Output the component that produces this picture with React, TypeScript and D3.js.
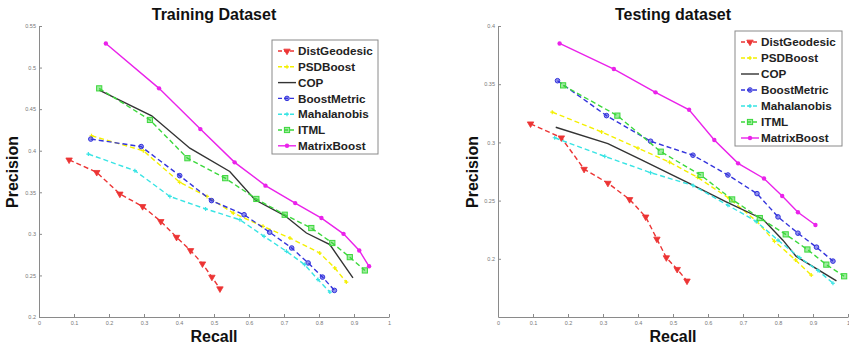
import React, { useRef, useEffect } from 'react';
import * as d3 from 'd3';

const W = 849;
const H = 346;

const seriesNames = ['DistGeodesic', 'PSDBoost', 'COP', 'BoostMetric', 'Mahalanobis', 'ITML', 'MatrixBoost'];

const xTicks = [0, 0.1, 0.2, 0.3, 0.4, 0.5, 0.6, 0.7, 0.8, 0.9, 1];
const trainYTicks = [0.2, 0.25, 0.3, 0.35, 0.4, 0.45, 0.5, 0.55];
const testYTicks = [0.2, 0.25, 0.3, 0.35, 0.4];

// training dataset (recall / precision)
const trDistGeodesicR = [0.086, 0.165, 0.231, 0.296, 0.348, 0.393, 0.433, 0.467, 0.494, 0.517];
const trDistGeodesicP = [0.389, 0.374, 0.348, 0.333, 0.315, 0.296, 0.28, 0.264, 0.248, 0.234];
const trPSDBoostR = [0.15, 0.298, 0.402, 0.48, 0.555, 0.64, 0.717, 0.802, 0.845, 0.878];
const trPSDBoostP = [0.418, 0.4, 0.362, 0.345, 0.325, 0.309, 0.295, 0.277, 0.259, 0.242];
const trCOPR = [0.172, 0.322, 0.431, 0.545, 0.617, 0.702, 0.764, 0.831, 0.897];
const trCOPP = [0.473, 0.442, 0.403, 0.375, 0.341, 0.322, 0.301, 0.287, 0.247];
const trBoostMetricR = [0.148, 0.292, 0.402, 0.493, 0.586, 0.659, 0.722, 0.769, 0.81, 0.844];
const trBoostMetricP = [0.414, 0.405, 0.37, 0.34, 0.323, 0.302, 0.283, 0.265, 0.248, 0.232];
const trMahalanobisR = [0.141, 0.274, 0.374, 0.476, 0.574, 0.643, 0.707, 0.759, 0.797, 0.831];
const trMahalanobisP = [0.396, 0.376, 0.345, 0.33, 0.317, 0.297, 0.279, 0.263, 0.245, 0.23];
const trITMLR = [0.172, 0.317, 0.424, 0.532, 0.621, 0.702, 0.778, 0.838, 0.888, 0.931];
const trITMLP = [0.475, 0.437, 0.391, 0.367, 0.342, 0.323, 0.307, 0.289, 0.272, 0.256];
const trMatrixBoostR = [0.191, 0.343, 0.461, 0.559, 0.647, 0.732, 0.807, 0.87, 0.915, 0.943];
const trMatrixBoostP = [0.529, 0.475, 0.426, 0.386, 0.358, 0.337, 0.319, 0.3, 0.28, 0.261];

// testing dataset
const teDistGeodesicR = [0.093, 0.181, 0.246, 0.314, 0.376, 0.422, 0.454, 0.481, 0.512, 0.54];
const teDistGeodesicP = [0.316, 0.304, 0.277, 0.265, 0.251, 0.236, 0.217, 0.201, 0.191, 0.181];
const tePSDBoostR = [0.155, 0.296, 0.4, 0.49, 0.57, 0.66, 0.74, 0.79, 0.85, 0.895];
const tePSDBoostP = [0.326, 0.309, 0.295, 0.283, 0.27, 0.252, 0.232, 0.215, 0.199, 0.186];
const teCOPR = [0.165, 0.314, 0.41, 0.538, 0.652, 0.757, 0.814, 0.852, 0.967];
const teCOPP = [0.313, 0.299, 0.285, 0.266, 0.249, 0.234, 0.216, 0.202, 0.181];
const teBoostMetricR = [0.17, 0.31, 0.436, 0.557, 0.657, 0.74, 0.8, 0.857, 0.91, 0.957];
const teBoostMetricP = [0.353, 0.323, 0.301, 0.289, 0.272, 0.256, 0.236, 0.222, 0.21, 0.198];
const teMahalanobisR = [0.162, 0.305, 0.436, 0.557, 0.657, 0.738, 0.8, 0.862, 0.914, 0.957];
const teMahalanobisP = [0.304, 0.288, 0.274, 0.263, 0.246, 0.232, 0.216, 0.201, 0.19, 0.179];
const teITMLR = [0.186, 0.341, 0.465, 0.579, 0.669, 0.748, 0.822, 0.884, 0.938, 0.989];
const teITMLP = [0.349, 0.323, 0.292, 0.272, 0.251, 0.235, 0.221, 0.208, 0.195, 0.185];
const teMatrixBoostR = [0.176, 0.331, 0.45, 0.546, 0.618, 0.686, 0.76, 0.812, 0.857, 0.907];
const teMatrixBoostP = [0.385, 0.363, 0.343, 0.328, 0.302, 0.282, 0.269, 0.254, 0.24, 0.229];

// styl każdej serii w kolejności seriesNames
const seriesStyles = [
  { color: '#ec3434', dash: '5,3', marker: 'tri' },
  { color: '#f4f000', dash: '5,3', marker: 'plus' },
  { color: '#333333', dash: null, marker: null },
  { color: '#3434dc', dash: '5,3', marker: 'circle' },
  { color: '#38e4e4', dash: '5,3', marker: 'plus' },
  { color: '#3cd83c', dash: '5,3', marker: 'square' },
  { color: '#ea22ea', dash: null, marker: 'dot' },
];

const zip = (r, p) => r.map((v, i) => [v, p[i]]);

const trainSeries = [
  zip(trDistGeodesicR, trDistGeodesicP),
  zip(trPSDBoostR, trPSDBoostP),
  zip(trCOPR, trCOPP),
  zip(trBoostMetricR, trBoostMetricP),
  zip(trMahalanobisR, trMahalanobisP),
  zip(trITMLR, trITMLP),
  zip(trMatrixBoostR, trMatrixBoostP),
];
const testSeries = [
  zip(teDistGeodesicR, teDistGeodesicP),
  zip(tePSDBoostR, tePSDBoostP),
  zip(teCOPR, teCOPP),
  zip(teBoostMetricR, teBoostMetricP),
  zip(teMahalanobisR, teMahalanobisP),
  zip(teITMLR, teITMLP),
  zip(teMatrixBoostR, teMatrixBoostP),
];

const FONT = "'Liberation Sans', Arial, sans-serif";
const fmt = (v) => String(+v.toFixed(2));

function drawMarker(g, kind, color, x, y) {
  if (!kind) return;
  if (kind === 'tri') {
    g.append('path')
      .attr('d', d3.symbol().type(d3.symbolTriangle).size(18)())
      .attr('transform', `translate(${x},${y}) rotate(180)`)
      .attr('fill', color)
      .attr('stroke', color)
      .attr('stroke-width', 0.8);
  } else if (kind === 'circle') {
    g.append('circle').attr('cx', x).attr('cy', y).attr('r', 2.3)
      .attr('fill', color).attr('fill-opacity', 0.55).attr('stroke', color).attr('stroke-width', 1);
  } else if (kind === 'square') {
    g.append('rect').attr('x', x - 2.6).attr('y', y - 2.6).attr('width', 5.2).attr('height', 5.2)
      .attr('fill', color).attr('fill-opacity', 0.5).attr('stroke', color).attr('stroke-width', 1);
  } else if (kind === 'dot') {
    g.append('circle').attr('cx', x).attr('cy', y).attr('r', 2.2).attr('fill', color);
  } else if (kind === 'plus') {
    g.append('path')
      .attr('d', `M${x - 2},${y}H${x + 2}M${x},${y - 2}V${y + 2}`)
      .attr('stroke', color).attr('stroke-width', 1.2);
  }
}

function drawPanel(svg, cfg) {
  const x = d3.scaleLinear().domain([0, 1]).range([cfg.left, cfg.left + 350]);
  const y = d3.scaleLinear().domain(cfg.yDomain).range([317, 26]);
  const g = svg.append('g');

  const styleAxis = (a) => {
    a.select('.domain').attr('stroke', '#8a8a8a').attr('stroke-width', 1);
    a.selectAll('.tick line').attr('stroke', '#8a8a8a');
    a.selectAll('.tick text').attr('fill', '#777').attr('font-size', 5.5).attr('font-family', FONT);
  };

  g.append('g')
    .attr('transform', 'translate(0,317)')
    .call(d3.axisBottom(x).tickValues(xTicks).tickSize(-3).tickSizeOuter(0).tickPadding(4).tickFormat(fmt))
    .call(styleAxis);
  g.append('g')
    .attr('transform', `translate(${cfg.left},0)`)
    .call(d3.axisLeft(y).tickValues(cfg.yTicks).tickSize(-3).tickSizeOuter(0).tickPadding(3).tickFormat(fmt))
    .call(styleAxis);

  const line = d3.line().x((d) => x(d[0])).y((d) => y(d[1]));
  cfg.series.forEach((pts, i) => {
    const st = seriesStyles[i];
    g.append('path')
      .datum(pts)
      .attr('d', line)
      .attr('fill', 'none')
      .attr('stroke', st.color)
      .attr('stroke-width', 1.4)
      .attr('stroke-dasharray', st.dash);
    pts.forEach((d) => drawMarker(g, st.marker, st.color, x(d[0]), y(d[1])));
  });

  // tytuł i opisy osi
  g.append('text').attr('x', cfg.left + 175).attr('y', 20).attr('text-anchor', 'middle')
    .attr('font-family', FONT).attr('font-weight', 'bold').attr('font-size', 16).attr('fill', '#111')
    .text(cfg.title);
  g.append('text').attr('x', cfg.left + 175).attr('y', 342).attr('text-anchor', 'middle')
    .attr('font-family', FONT).attr('font-weight', 'bold').attr('font-size', 16).attr('fill', '#111')
    .text('Recall');
  g.append('text').attr('transform', `translate(${cfg.labelX},172) rotate(-90)`).attr('text-anchor', 'middle')
    .attr('font-family', FONT).attr('font-weight', 'bold').attr('font-size', 16).attr('fill', '#111')
    .text('Precision');

  // legenda
  const lg = g.append('g');
  lg.append('rect')
    .attr('x', cfg.legend.x).attr('y', cfg.legend.y)
    .attr('width', cfg.legend.w).attr('height', cfg.legend.h)
    .attr('fill', '#fff').attr('stroke', '#8a8a8a').attr('stroke-width', 1);
  seriesNames.forEach((name, i) => {
    const st = seriesStyles[i];
    const ly = cfg.legend.y + 11 + i * cfg.legend.step;
    const lx = cfg.legend.x + 6;
    lg.append('line').attr('x1', lx).attr('x2', lx + 18).attr('y1', ly).attr('y2', ly)
      .attr('stroke', st.color).attr('stroke-width', 1.4)
      .attr('stroke-dasharray', st.dash ? '4,2' : null);
    drawMarker(lg, st.marker, st.color, lx + 9, ly);
    lg.append('text').attr('x', lx + 20).attr('y', ly).attr('dy', '0.36em')
      .attr('font-family', FONT).attr('font-weight', 'bold').attr('font-size', 11.7).attr('fill', '#222')
      .text(name);
  });
}

function App() {
  const svgRef = useRef(null);

  useEffect(() => {
    const svg = d3.select(svgRef.current);
    svg.selectAll('*').remove();
    drawPanel(svg, {
      left: 39,
      yDomain: [0.2, 0.55],
      yTicks: trainYTicks,
      series: trainSeries,
      title: 'Training Dataset',
      labelX: 18,
      legend: { x: 272, y: 40, w: 106, h: 114, step: 15.8 },
    });
    drawPanel(svg, {
      left: 498,
      yDomain: [0.15, 0.4],
      yTicks: testYTicks,
      series: testSeries,
      title: 'Testing dataset',
      labelX: 478,
      legend: { x: 735, y: 31, w: 107, h: 115, step: 16 },
    });
  }, []);

  return (
    <div style={{ position: 'absolute', left: 0, top: 0, width: W, height: H, background: '#fff' }}>
      <svg ref={svgRef} width={W} height={H} style={{ display: 'block' }} />
    </div>
  );
}

export default App;
